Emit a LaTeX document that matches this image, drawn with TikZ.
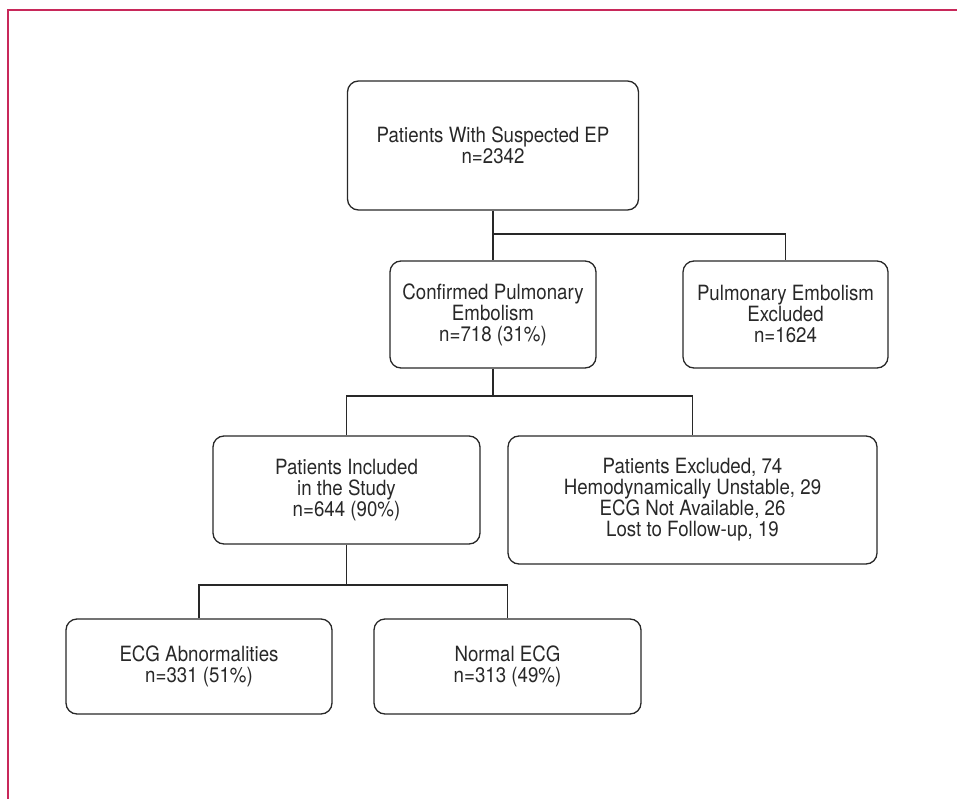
\documentclass[tikz,border=0pt]{standalone}
\usepackage{fontspec}
\setmainfont{TeX Gyre Heros}[FakeStretch=0.89]
\usepackage{tikz}
\usetikzlibrary{positioning}
\definecolor{framered}{RGB}{200,40,90}
\definecolor{inkgray}{RGB}{40,40,40}

\begin{document}
\begin{tikzpicture}[x=1pt, y=-1pt]
            \tikzstyle{block}=[shape=rectangle, rounded corners=11pt, draw=inkgray, line width=1.3pt, text=inkgray, align=center, inner sep=0pt, font=\fontsize{21}{21}\selectfont];
            \tikzstyle{link}=[draw=inkgray, line width=1.3pt];

            \useasboundingbox (0,0) rectangle (957,799);
            \draw[framered, line width=2pt] (957,10) -| (8,799);

            \node[block, minimum width=291pt, minimum height=129pt](Suspected) at (493,145.5) {Patients With Suspected EP\\n=2342};
            \node[block, minimum width=206pt, minimum height=107pt](Confirmed) at (493,314.5) {Confirmed Pulmonary\\Embolism\\n=718 (31\%)};
            \node[block, minimum width=205pt, minimum height=107pt](Ruledout) at (785.5,314.5) {Pulmonary Embolism\\Excluded\\n=1624};
            \node[block, minimum width=267pt, minimum height=108pt](Included) at (346.5,490) {Patients Included\\in the Study\\n=644 (90\%)};
            \node[block, minimum width=369pt, minimum height=128pt](Dropped) at (692.5,500) {Patients Excluded, 74\\Hemodynamically Unstable, 29\\ECG Not Available, 26\\Lost to Follow-up, 19};
            \node[block, minimum width=266pt, minimum height=95pt](Abnormal) at (199,666.5) {ECG Abnormalities\\n=331 (51\%)};
            \node[block, minimum width=267pt, minimum height=95pt](Normal) at (507.5,666.5) {Normal ECG\\n=313 (49\%)};

            \coordinate (J1) at (493,234);
            \coordinate (J2) at (493,396);
            \coordinate (J3) at (346.5,585);

            \draw[link]
                (Suspected.south) -- (Confirmed.north)
                (J1) -| (Ruledout.north)
            ;

            \draw[link]
                (Confirmed.south) -- (J2)
                (Included.north) |- (J2) -| (Dropped.north)
            ;

            \draw[link]
                (Included.south) -- (J3)
                (Abnormal.north) |- (J3) -| (Normal.north)
            ;
        \end{tikzpicture}
\end{document}
